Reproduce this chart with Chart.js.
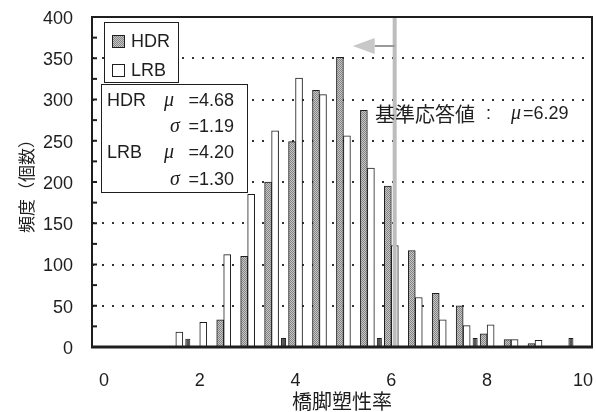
<!DOCTYPE html>
<html lang="ja">
<head>
<meta charset="utf-8">
<title>橋脚塑性率の頻度分布</title>
<script src="https://cdn.jsdelivr.net/npm/chart.js@4.4.1/dist/chart.umd.min.js"></script>
<style>
  html, body { margin: 0; padding: 0; background: #fff; }
  #wrap { width: 596px; height: 412px; }
</style>
</head>
<body>
<div id="wrap"><canvas id="histChart" width="596" height="412"></canvas></div>
<script>
// histogram bins (bar positions on the x axis) and counts per bin
const binValues = [1.0, 1.5, 2.0, 2.5, 3.0, 3.5, 4.0, 4.5, 5.0, 5.5, 6.0, 6.5, 7.0, 7.5, 8.0, 8.5, 9.0, 9.5];
const hdrCounts = [0, 0, 0, 33, 110, 200, 249, 311, 351, 287, 195, 117, 65, 50, 16, 9, 4, 1];
const lrbCounts = [1, 18, 30, 112, 185, 262, 326, 306, 256, 217, 123, 60, 33, 26, 27, 9, 8, 1];

// the small dark bars between the pairs
const extraBins = [1.75, 3.75, 5.75, 7.75, 9.75];
const extraCounts = [10, 11, 11, 11, 11];

const xTickValues = [0, 2, 4, 6, 8, 10];
const yMinorStep = 25;

const seriesNames = ['HDR', 'LRB'];
const statsRows = [
    { name: 'HDR', sym: 'μ', value: '=4.68' },
    { name: '', sym: 'σ', value: '=1.19' },
    { name: 'LRB', sym: 'μ', value: '=4.20' },
    { name: '', sym: 'σ', value: '=1.30' }
];

// reference line (基準応答値) as placed in the picture
const refLineX = 6.07;
const refLabel = '基準応答値';
const refValueText = '=6.29';

const latin = '18px "Liberation Sans", Arial, sans-serif';
const greek = 'italic 20px "Liberation Serif", serif';
const cjk = '"Noto Sans CJK JP", sans-serif';
const ink = '#1e1e1e';

const canvas = document.getElementById('histChart');
const ctx = canvas.getContext('2d');

function makeStipple() {
    const c = document.createElement('canvas');
    c.width = 2;
    c.height = 2;
    const g = c.getContext('2d');
    g.fillStyle = '#c6c6c6';
    g.fillRect(0, 0, 2, 2);
    g.fillStyle = '#848484';
    g.fillRect(0, 0, 1, 1);
    g.fillRect(1, 1, 1, 1);
    return ctx.createPattern(c, 'repeat');
}

const stipple = makeStipple();

function toPoints(xs, ys) {
    return xs.map((x, i) => ({ x: x, y: ys[i] }));
}

const overlayPlugin = {
    id: 'overlay',
    afterDatasetsDraw(chart) {
        const g = chart.ctx;
        const area = chart.chartArea;
        const xs = chart.scales.x;
        const ys = chart.scales.y;
        g.save();

        // reference line + arrow
        const refPx = xs.getPixelForValue(refLineX);
        g.strokeStyle = '#bdbdbd';
        g.lineWidth = 4;
        g.beginPath();
        g.moveTo(refPx, area.top);
        g.lineTo(refPx, area.bottom);
        g.stroke();

        g.strokeStyle = '#9a9a9a';
        g.lineWidth = 2;
        g.beginPath();
        g.moveTo(refPx - 20, 46);
        g.lineTo(refPx, 46);
        g.stroke();
        g.fillStyle = '#c8c8c8';
        g.beginPath();
        g.moveTo(refPx - 42, 46);
        g.lineTo(refPx - 20, 38);
        g.lineTo(refPx - 20, 54);
        g.closePath();
        g.fill();

        // plot frame
        g.strokeStyle = ink;
        g.lineWidth = 2;
        g.strokeRect(area.left, area.top, area.right - area.left, area.bottom - area.top);
        g.lineWidth = 3;
        g.beginPath();
        g.moveTo(area.left - 1, area.bottom);
        g.lineTo(area.right + 1, area.bottom);
        g.stroke();

        // inward ticks on the y axis
        g.lineWidth = 2;
        for (let v = ys.min; v <= ys.max; v += yMinorStep) {
            const py = ys.getPixelForValue(v);
            g.beginPath();
            g.moveTo(area.left, py);
            g.lineTo(area.left + 5, py);
            g.stroke();
        }

        // legend box
        g.fillStyle = '#fff';
        g.fillRect(104, 22, 75, 61);
        g.lineWidth = 1;
        g.strokeStyle = ink;
        g.strokeRect(104.5, 22.5, 74, 60);
        g.textBaseline = 'middle';
        g.textAlign = 'left';
        [stipple, '#fff'].forEach((fill, i) => {
            const cy = 41 + i * 29;
            g.fillStyle = fill;
            g.fillRect(112, cy - 6, 13, 13);
            g.strokeStyle = ink;
            g.strokeRect(112.5, cy - 5.5, 12, 12);
            g.fillStyle = ink;
            g.font = latin;
            g.fillText(seriesNames[i], 131, cy + 1);
        });

        // stats box
        g.fillStyle = '#fff';
        g.fillRect(101, 84, 147, 109);
        g.strokeRect(101.5, 84.5, 146, 108);
        g.fillStyle = ink;
        const rowY = [101, 127, 153, 180];
        statsRows.forEach((row, i) => {
            g.textAlign = 'left';
            g.font = latin;
            if (row.name) g.fillText(row.name, 107, rowY[i]);
            g.font = greek;
            g.fillText(row.sym, row.sym === 'μ' ? 164 : 170, rowY[i]);
            g.textAlign = 'right';
            g.font = latin;
            g.fillText(row.value, 234, rowY[i]);
        });

        // reference label
        g.textAlign = 'left';
        g.font = '20px ' + cjk;
        g.fillText(refLabel, 375, 114);
        g.font = latin;
        g.fillText(':', 486, 114);
        g.font = greek;
        g.fillText('μ', 511, 114);
        g.font = latin;
        g.fillText(refValueText, 523, 114);

        g.restore();
    }
};

const histChart = new Chart(ctx, {
    type: 'bar',
    data: {
        datasets: [
            {
                label: seriesNames[0],
                data: toPoints(binValues, hdrCounts),
                backgroundColor: stipple,
                borderColor: ink,
                borderWidth: 1,
                borderSkipped: 'bottom',
                barThickness: 7
            },
            {
                label: seriesNames[1],
                data: toPoints(binValues, lrbCounts),
                backgroundColor: '#ffffff',
                borderColor: ink,
                borderWidth: 1,
                borderSkipped: 'bottom',
                barThickness: 7
            },
            {
                label: 'HDR (0.25)',
                data: toPoints(extraBins, extraCounts),
                backgroundColor: '#555555',
                borderColor: ink,
                borderWidth: 1,
                grouped: false,
                maxBarThickness: 5
            }
        ]
    },
    options: {
        responsive: false,
        animation: false,
        layout: { padding: { left: 0, right: 4, top: 17, bottom: 0 } },
        plugins: {
            legend: { display: false },
            tooltip: { enabled: false }
        },
        scales: {
            x: {
                type: 'linear',
                min: -0.25,
                max: 10.19,
                offset: false,
                grid: { display: false },
                border: { display: false },
                afterBuildTicks: scale => {
                    scale.ticks = xTickValues.map(v => ({ value: v }));
                },
                afterFit: scale => {
                    scale.height = 65;
                    scale.paddingLeft = 0;
                    scale.paddingRight = 0;
                },
                ticks: {
                    color: ink,
                    font: { family: '"Liberation Sans", Arial, sans-serif', size: 18 },
                    padding: 15,
                    maxRotation: 0,
                    autoSkip: false
                },
                title: {
                    display: true,
                    text: '橋脚塑性率',
                    color: ink,
                    font: { family: cjk, size: 20, lineHeight: 1 },
                    padding: { top: 0, bottom: 1 }
                }
            },
            y: {
                min: 0,
                max: 400,
                afterFit: scale => {
                    scale.width = 92;
                    scale.paddingTop = 0;
                    scale.paddingBottom = 0;
                },
                ticks: {
                    stepSize: 50,
                    color: ink,
                    font: { family: '"Liberation Sans", Arial, sans-serif', size: 18 },
                    padding: 19,
                    labelOffset: 2
                },
                grid: {
                    drawTicks: false,
                    lineWidth: 2,
                    color: c => (c.tick && (c.tick.value === 0 || c.tick.value === 400)) ? 'rgba(0,0,0,0)' : '#333333'
                },
                border: { display: false, dash: [2, 8] },
                title: {
                    display: true,
                    text: '頻度（個数）',
                    color: ink,
                    font: { family: cjk, size: 17, lineHeight: 1 },
                    padding: { top: 18, bottom: 0 }
                }
            }
        }
    },
    plugins: [overlayPlugin]
});
</script>
</body>
</html>
